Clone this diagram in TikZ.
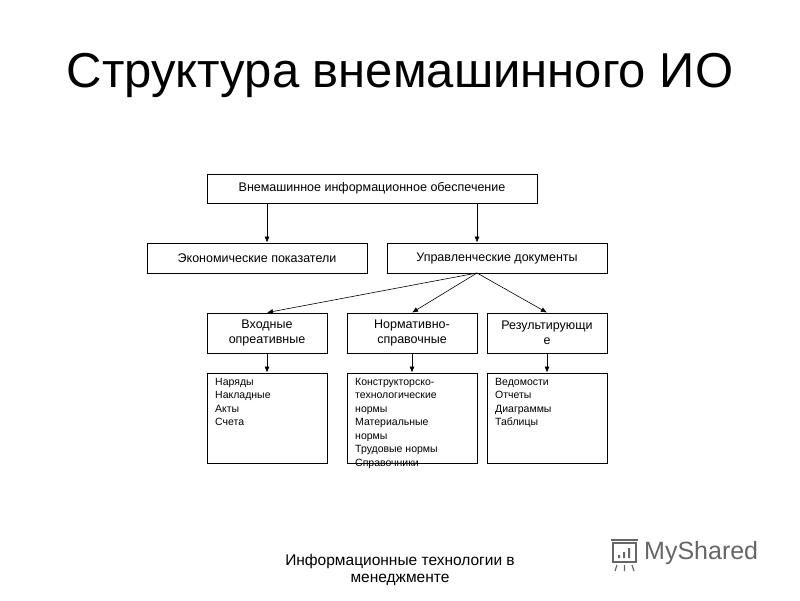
\documentclass[tikz,border=0pt]{standalone}
\usepackage{fontspec}
\setmainfont{Liberation Sans}
\usetikzlibrary{arrows.meta}
\begin{document}
\begin{tikzpicture}[x=1pt,y=-1pt,
  bx/.style={draw,thick,fill=white,inner sep=0pt},
  ar/.style={-{Latex[length=6pt,width=5pt]},semithick},
  lbl/.style={font=\fontsize{12.5}{14.5}\selectfont,align=center}]
\useasboundingbox[fill=white] (0,0) rectangle (800,600);
\node[font=\fontsize{49}{53}\selectfont] (title) at (400,75) {Структура внемашинного ИО};
\node[bx,minimum width=330pt,minimum height=29pt,lbl] (top) at (372,188.5) {Внемашинное информационное обеспечение};
\node[bx,minimum width=220pt,minimum height=30pt,lbl] (ek) at (257,258) {Экономические показатели};
\node[bx,minimum width=220pt,minimum height=30pt,lbl] (up) at (497,258) {Управленческие документы};
\node[bx,minimum width=120pt,minimum height=40pt,lbl] (a) at (267,333) {Входные\\опреативные};
\node[bx,minimum width=130pt,minimum height=40pt,lbl] (b) at (412,333) {Нормативно-\\справочные};
\node[bx,minimum width=120pt,minimum height=40pt,lbl] (c) at (547,333) {Результирующи\\е};
\node[bx,minimum width=120pt,minimum height=90pt] (a2) at (267,418) {};
\node[bx,minimum width=130pt,minimum height=90pt] (b2) at (412,418) {};
\node[bx,minimum width=120pt,minimum height=90pt] (c2) at (547,418) {};
\tikzset{lt/.style={anchor=north west,align=left,inner sep=0pt,font=\fontsize{10.5}{13.5}\selectfont}}
\node[lt] (at) at (215,378) {Наряды\\Накладные\\Акты\\Счета};
\node[lt] (bt) at (355,378) {Конструкторско-\\технологические\\нормы\\Материальные\\нормы\\Трудовые нормы\\Справочники};
\node[lt] (ct) at (495,378) {Ведомости\\Отчеты\\Диаграммы\\Таблицы};
\coordinate (t1) at (267,203);
\draw[ar] (t1) -- (t1 |- ek.north);
\coordinate (t2) at (477,203);
\draw[ar] (t2) -- (t2 |- up.north);
\coordinate (u) at (477,273);
\draw[ar] (u) -- (a.north);
\draw[ar] (u) -- (b.north);
\draw[ar] (u) -- (c.north);
\draw[ar] (a.south) -- (a2.north);
\draw[ar] (b.south) -- (b2.north);
\draw[ar] (c.south) -- (c2.north);
\node[lbl,font=\fontsize{15.5}{17}\selectfont] (foot) at (400,570) {Информационные технологии в\\менеджменте};
% logo
\begin{scope}[draw=black!60,line width=1.2pt]
\draw (613,543) rectangle (636,562);
\draw (611,540) -- (638,540);
\draw (617,565) -- (615,571) (624.5,565) -- (624.5,571) (632,565) -- (634,571);
\fill[black!60] (618,555) rectangle (620,558) (623,552) rectangle (625,558) (628,548) rectangle (630,558);
\end{scope}
\node[anchor=west,text=black!60,font=\fontsize{25}{27}\selectfont,inner sep=0pt] (logo) at (644,553) {MyShared};
\end{tikzpicture}
\end{document}
